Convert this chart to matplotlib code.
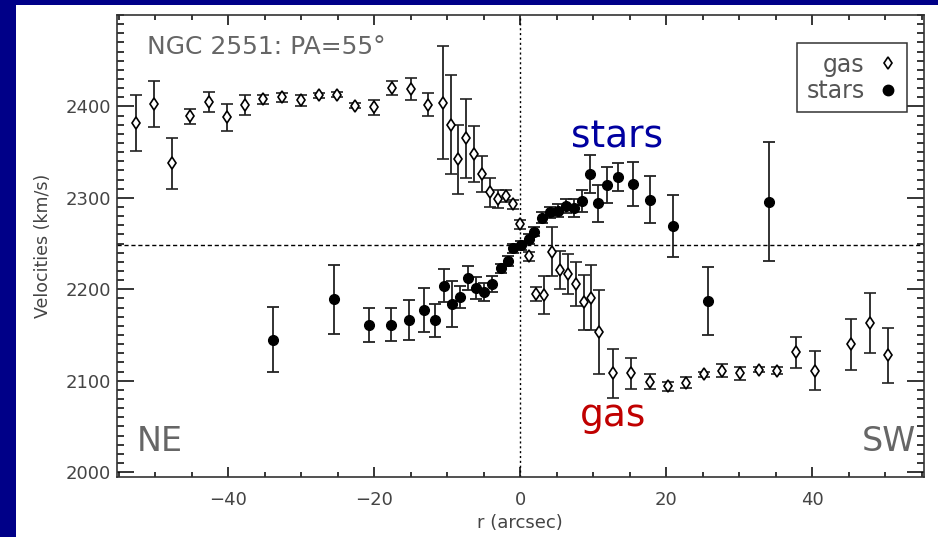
import matplotlib
matplotlib.use("Agg")
import matplotlib.pyplot as plt
from matplotlib.lines import Line2D
from matplotlib.patches import Rectangle
from matplotlib.ticker import MultipleLocator

# ---- data ----
gas_r = [-52.6, -50.2, -47.7, -45.2, -42.7, -40.2, -37.7, -35.2, -32.6, -30.1,
         -27.6, -25.1, -22.6, -20.1, -17.6, -15.0, -12.6, -10.6, -9.5, -8.6,
         -7.5, -6.4, -5.3, -4.2, -3.1, -2.0, -1.0, 0.0, 1.2, 2.1,
         3.3, 4.3, 5.5, 6.5, 7.6, 8.7, 9.7, 10.8, 12.7, 15.2,
         17.7, 20.2, 22.7, 25.1, 27.6, 30.1, 32.7, 35.2, 37.8, 40.3,
         45.3, 47.9, 50.4]
gas_v = [2382, 2403, 2338, 2389, 2405, 2388, 2402, 2408, 2410, 2407,
         2412, 2413, 2401, 2399, 2420, 2419, 2402, 2404, 2380, 2342,
         2365, 2348, 2326, 2306, 2299, 2302, 2293, 2271, 2236, 2195,
         2194, 2241, 2221, 2217, 2206, 2186, 2191, 2153, 2108, 2108,
         2099, 2094, 2098, 2107, 2111, 2108, 2112, 2111, 2131, 2111,
         2140, 2163, 2128]
gas_err = [31, 25, 28, 8, 11, 15, 11, 5, 5, 6,
           3, 3, 3, 8, 8, 12, 13, 62, 54, 38,
           43, 31, 20, 16, 10, 7, 5, 5, 5, 8,
           21, 27, 21, 22, 24, 30, 36, 46, 27, 17,
           8, 5, 6, 3, 7, 7, 3, 4, 17, 21,
           28, 33, 30]

stars_r = [-33.9, -25.5, -20.7, -17.7, -15.3, -13.2, -11.7, -10.4, -9.4, -8.2,
           -7.2, -6.1, -5.0, -3.9, -2.7, -1.7, -1.0, 0.1, 1.2, 1.9,
           3.0, 4.1, 5.2, 6.3, 7.3, 8.4, 9.5, 10.6, 11.9, 13.4,
           15.5, 17.8, 20.9, 25.7, 34.1]
stars_v = [2145, 2189, 2161, 2161, 2166, 2177, 2166, 2204, 2184, 2192,
           2212, 2201, 2197, 2206, 2223, 2231, 2245, 2248, 2255, 2263,
           2278, 2284, 2286, 2291, 2289, 2297, 2326, 2294, 2314, 2323,
           2315, 2298, 2269, 2187, 2296]
stars_err = [36, 38, 19, 18, 22, 24, 18, 18, 25, 12,
             13, 12, 10, 9, 5, 5, 5, 5, 5, 5,
             6, 6, 7, 8, 10, 12, 21, 20, 20, 15,
             24, 26, 34, 37, 65]

systemic_v = 2248
x_ticks = [-40, -20, 0, 20, 40]
y_ticks = [2000, 2100, 2200, 2300, 2400]

# ---- figure ----
W, H = 938, 537
fig = plt.figure(figsize=(W / 100, H / 100), dpi=100)
fig.patch.set_facecolor("#000088")
fig.patches.append(Rectangle((16 / W, 0), 1 - 16 / W, 1 - 5 / H,
                             transform=fig.transFigure, facecolor="white",
                             edgecolor="none", zorder=-10))

ax = fig.add_axes([116.7 / W, (H - 476.7) / H, (924 - 116.7) / W, (476.7 - 15) / H])
ax.set_xlim(-55.3, 55.3)
ax.set_ylim(1995, 2500)

tc = "#444444"
ax.axhline(systemic_v, color="black", lw=1.0, ls=(0, (3, 2)), zorder=1)
ax.axvline(0, color="black", lw=1.0, ls=(0, (1.5, 2)), zorder=1)

ax.errorbar(gas_r, gas_v, yerr=gas_err, fmt="d", ms=6.5, mfc="white", mec="black",
            mew=1.2, ecolor="#222222", elinewidth=1.3, capsize=4.5, capthick=1.3,
            zorder=3)
ax.errorbar(stars_r, stars_v, yerr=stars_err, fmt="o", ms=7, mfc="black", mec="black",
            ecolor="#222222", elinewidth=1.3, capsize=4.5, capthick=1.3, zorder=4)

ax.set_xticks(x_ticks)
ax.set_yticks(y_ticks)
ax.xaxis.set_minor_locator(MultipleLocator(5))
ax.yaxis.set_minor_locator(MultipleLocator(10))
ax.tick_params(axis="x", which="major", direction="in", length=7, width=1.1,
               top=True, bottom=True, labelsize=13, labelcolor=tc, pad=10)
ax.tick_params(axis="x", which="minor", direction="in", length=3.5, width=1.1,
               top=True, bottom=True)
ax.tick_params(axis="y", which="major", direction="in", length=12, width=1.1,
               left=True, right=True, labelsize=13, labelcolor=tc, pad=4)
ax.tick_params(axis="y", which="minor", direction="in", length=5, width=1.1,
               left=True, right=True)
for s in ax.spines.values():
    s.set_linewidth(1.2)
    s.set_color("#333333")

ax.set_xlabel("r (arcsec)", fontsize=13, color=tc, labelpad=4)
ax.set_ylabel("Velocities (km/s)", fontsize=12.5, color=tc, labelpad=10)

ax.text(0.037, 0.957, "NGC 2551: PA=55°", transform=ax.transAxes, fontsize=18,
        color="#666666", ha="left", va="top")
ax.text(0.025, 0.04, "NE", transform=ax.transAxes, fontsize=24, color="#666666",
        ha="left", va="bottom")
ax.text(0.99, 0.04, "SW", transform=ax.transAxes, fontsize=24, color="#666666",
        ha="right", va="bottom")

fig.text(571 / W, 1 - 147 / H, "stars", fontsize=27, color="#0000A0",
         ha="left", va="baseline")
fig.text(580 / W, 1 - 426 / H, "gas", fontsize=27, color="#C00000",
         ha="left", va="baseline")

handles = [Line2D([], [], ls="none", marker="d", ms=6, mfc="white", mec="black", mew=1.2),
           Line2D([], [], ls="none", marker="o", ms=7.5, mfc="black", mec="black")]
leg = ax.legend(handles, ["gas", "stars"], loc="upper right",
                bbox_to_anchor=(0.979, 0.939), markerfirst=False, fontsize=17,
                frameon=True, fancybox=False, edgecolor="#333333", framealpha=1,
                handlelength=0.8, handletextpad=0.6, borderpad=0.4,
                labelspacing=0.1, borderaxespad=0)
leg._legend_box.align = "right"
leg.get_frame().set_linewidth(1.1)
for t in leg.get_texts():
    t.set_color("#555555")

fig.savefig("out.png", dpi=100, facecolor=fig.get_facecolor())
